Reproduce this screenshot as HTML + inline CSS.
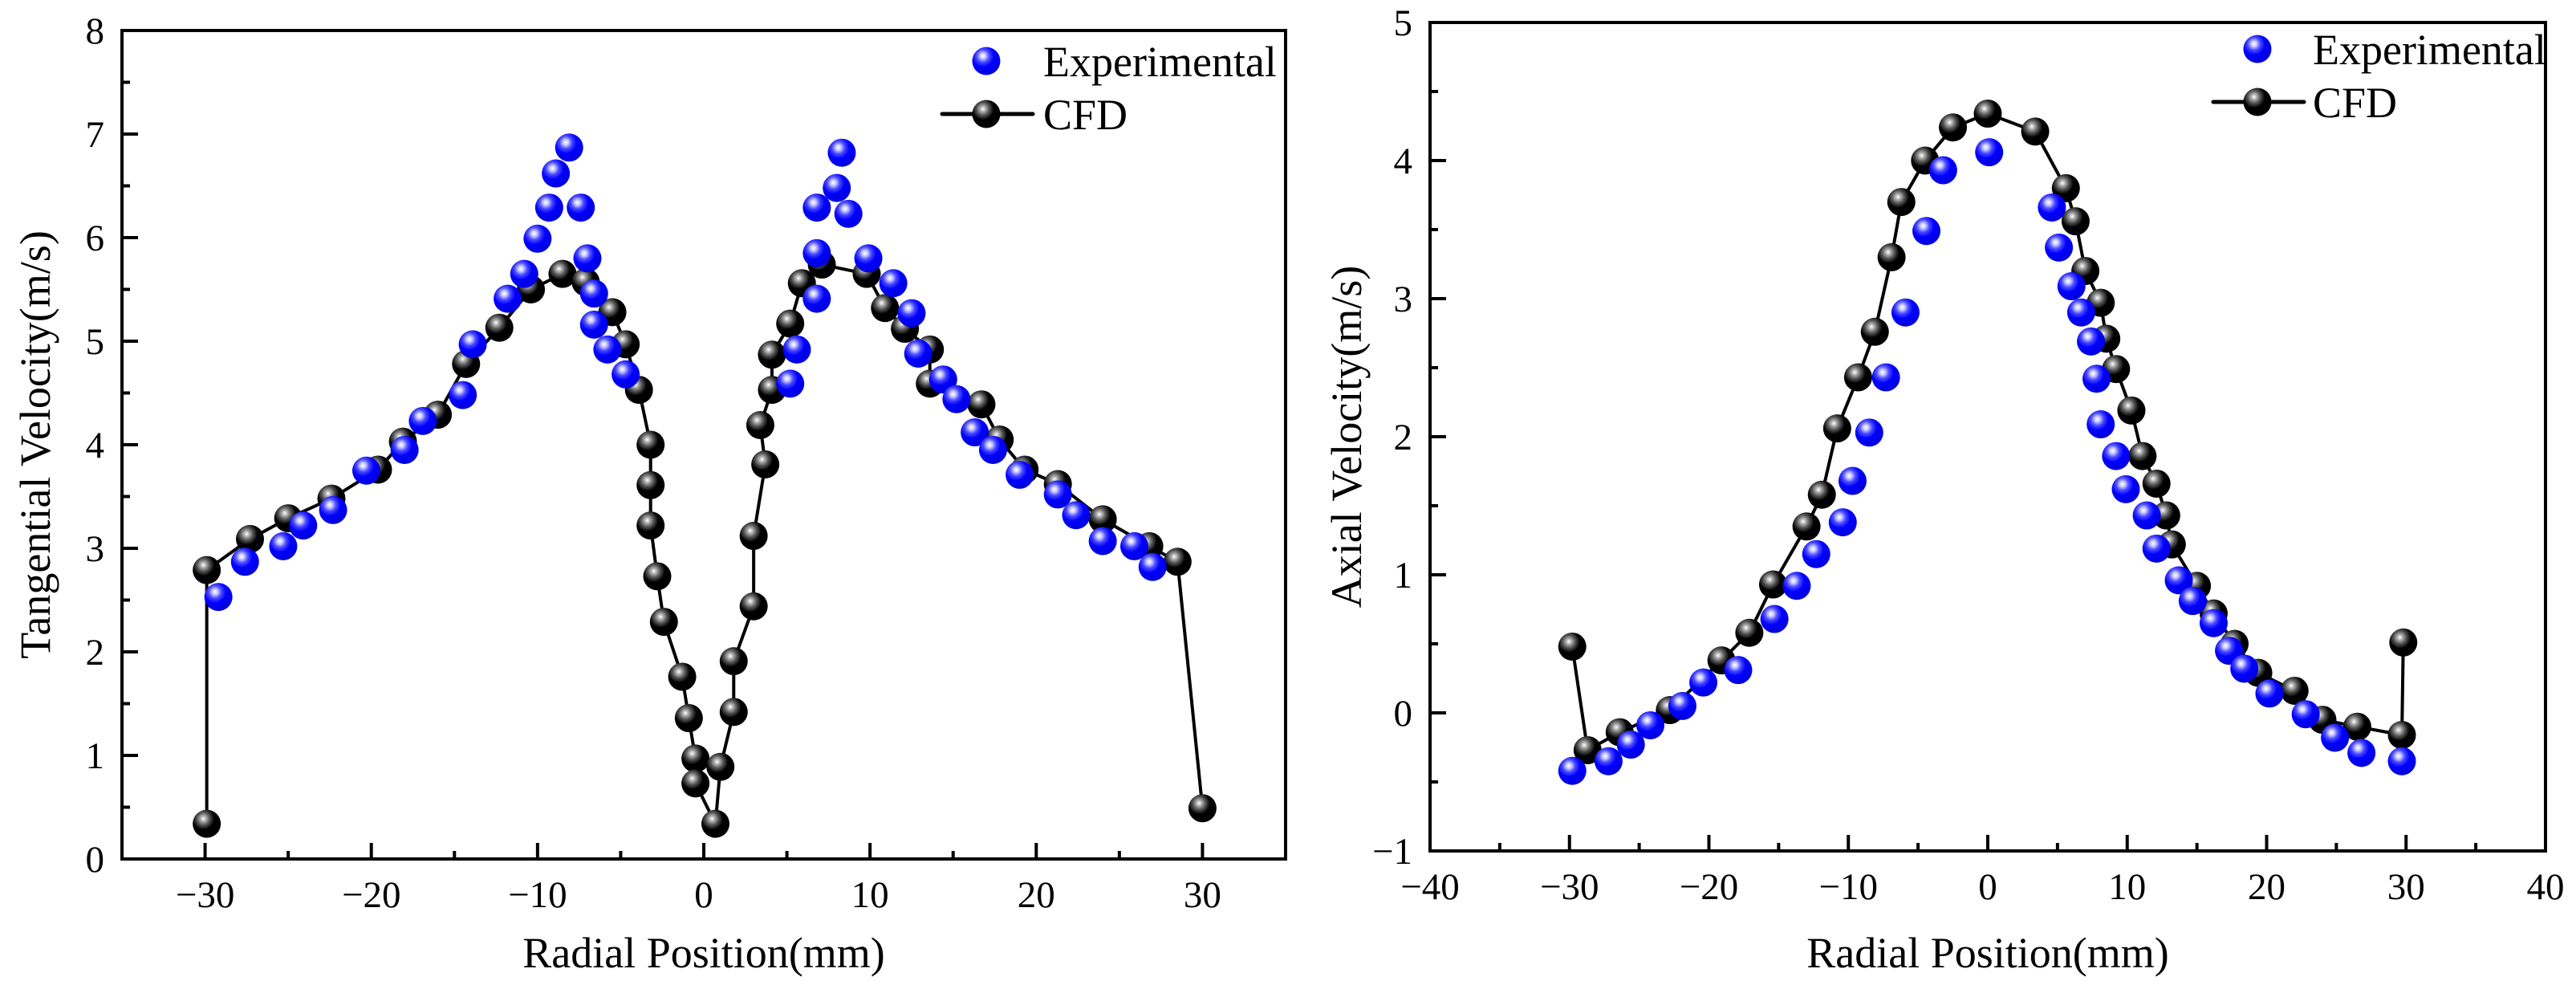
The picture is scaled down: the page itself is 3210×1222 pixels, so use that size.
<!DOCTYPE html>
<html><head><meta charset="utf-8">
<style>
html,body{margin:0;padding:0;background:#fff;}
svg{display:block;}
svg text{font-family:"Liberation Serif","Times New Roman",serif !important;fill:#000;}
</style></head>
<body>
<svg id="chart" width="3210" height="1222" viewBox="0 0 3210 1222" xmlns="http://www.w3.org/2000/svg" font-family="Liberation Serif, serif">
<defs>
<radialGradient id="gBlue" cx="0.38" cy="0.32" r="0.65">
<stop offset="0" stop-color="#ffffff"/><stop offset="0.15" stop-color="#c8c8ff"/><stop offset="0.35" stop-color="#4a4aff"/><stop offset="0.6" stop-color="#0000ff"/><stop offset="1" stop-color="#0000e0"/>
</radialGradient>
<radialGradient id="gBlack" cx="0.38" cy="0.32" r="0.65">
<stop offset="0" stop-color="#ffffff"/><stop offset="0.15" stop-color="#b0b0b0"/><stop offset="0.35" stop-color="#555"/><stop offset="0.6" stop-color="#000"/><stop offset="1" stop-color="#000"/>
</radialGradient>
</defs>
<g id="left"></g>
<g id="right"></g>
</svg>
<script>
// ---- Left chart data (Tangential velocity) ----
const tanCfdX = [-29.9,-29.9,-27.3,-25.0,-22.4,-19.6,-18.1,-16.0,-14.3,-12.3,-10.4,-8.5,-7.1,-5.5,-4.7,-3.9,-3.2,-3.2,-3.2,-2.8,-2.4,-1.3,-0.9,-0.5,-0.5,0.7,1.0,1.8,1.8,3.0,3.0,3.7,3.4,4.1,4.1,5.2,5.9,7.1,9.8,10.9,12.1,13.6,13.6,16.7,17.8,19.3,21.3,24.0,26.8,28.5,30.0];
const tanCfdY = [0.34,2.79,3.09,3.29,3.48,3.76,4.03,4.29,4.78,5.13,5.50,5.65,5.57,5.28,4.97,4.53,4.00,3.61,3.22,2.73,2.29,1.76,1.36,0.97,0.73,0.34,0.89,1.42,1.91,2.44,3.12,3.81,4.19,4.53,4.87,5.17,5.56,5.74,5.65,5.32,5.12,4.92,4.59,4.39,4.05,3.76,3.62,3.28,3.02,2.87,0.49];
const tanExpX = [-29.2,-27.6,-25.3,-24.1,-22.3,-20.3,-18.0,-16.9,-14.5,-13.9,-11.8,-10.8,-10.0,-9.3,-8.9,-8.1,-7.4,-7.0,-6.6,-6.6,-5.8,-4.7,5.2,5.6,6.8,6.8,6.8,8.0,8.3,8.7,9.9,11.4,12.5,12.9,14.4,15.2,16.3,17.4,19.0,21.3,22.4,24.0,25.9,27.0];
const tanExpY = [2.53,2.87,3.02,3.22,3.37,3.75,3.95,4.23,4.48,4.97,5.41,5.65,5.99,6.29,6.62,6.87,6.29,5.80,5.46,5.16,4.92,4.68,4.59,4.92,5.41,5.85,6.29,6.48,6.82,6.23,5.80,5.56,5.27,4.88,4.63,4.44,4.12,3.95,3.71,3.52,3.32,3.07,3.02,2.82];
const tanXTicks = [-30,-20,-10,0,10,20,30];
const tanYTicks = [0,1,2,3,4,5,6,7,8];
// ---- Right chart data (Axial velocity) ----
const axCfdX = [-29.8,-28.7,-26.4,-22.8,-19.1,-17.1,-15.4,-13.0,-11.9,-10.8,-9.3,-8.1,-6.9,-6.2,-4.5,-2.5,0,3.4,5.6,6.3,7.0,8.1,8.5,9.2,10.3,11.1,12.1,12.8,13.2,15.0,16.2,17.7,19.4,22.0,24.0,26.5,29.7,29.8];
const axCfdY = [0.48,-0.27,-0.14,0.02,0.38,0.58,0.93,1.35,1.58,2.06,2.43,2.76,3.30,3.70,4.00,4.24,4.34,4.21,3.80,3.56,3.20,2.97,2.71,2.49,2.19,1.86,1.66,1.43,1.22,0.92,0.72,0.50,0.29,0.16,-0.05,-0.10,-0.16,0.51];
const axExpX = [-29.8,-27.2,-25.6,-24.2,-21.9,-20.4,-17.9,-15.3,-13.7,-12.3,-10.4,-9.7,-8.5,-7.3,-5.9,-4.4,-3.2,0.1,4.6,5.1,6.0,6.7,7.4,7.8,8.1,9.2,9.9,11.4,12.1,13.7,14.7,16.2,17.3,18.4,20.2,22.8,24.9,26.8,29.7];
const axExpY = [-0.42,-0.35,-0.23,-0.09,0.05,0.22,0.31,0.68,0.92,1.15,1.38,1.68,2.03,2.43,2.90,3.49,3.93,4.06,3.66,3.37,3.09,2.90,2.69,2.42,2.09,1.86,1.62,1.43,1.19,0.96,0.81,0.65,0.45,0.32,0.14,-0.01,-0.18,-0.29,-0.35];
const axXTicks = [-40,-30,-20,-10,0,10,20,30,40];
const axYTicks = [-1,0,1,2,3,4,5];

const NS = "http://www.w3.org/2000/svg";
const FF = '"Liberation Serif", serif';
function mk(parent, tag, attrs, txt){
  const e = document.createElementNS(NS, tag);
  for (const k in attrs) e.setAttribute(k, attrs[k]);
  if (tag === 'text') { e.setAttribute('font-family', FF); e.style.fontFamily = FF; }
  if (txt !== undefined) e.textContent = txt;
  parent.appendChild(e);
  return e;
}
function drawChart(g, cfg){
  const sx = v => cfg.x0 + (v - cfg.xmin) / (cfg.xmax - cfg.xmin) * (cfg.x1 - cfg.x0);
  const sy = v => cfg.y1 - (v - cfg.ymin) / (cfg.ymax - cfg.ymin) * (cfg.y1 - cfg.y0);
  const fr = mk(g, 'rect', {x:cfg.x0, y:cfg.y0, width:cfg.x1-cfg.x0, height:cfg.y1-cfg.y0, fill:'none', stroke:'#000', 'stroke-width':4});
  
  
  cfg.xTicks.forEach(v => {
    const x = sx(v);
    const t = mk(g, 'line', {x1:x, x2:x, y1:cfg.y1, y2:cfg.y1-20, stroke:'#000', 'stroke-width':4});
    
    
    const m = mk(g, 'line', {x1:sx(v+cfg.xStep/2), x2:sx(v+cfg.xStep/2), y1:cfg.y1, y2:cfg.y1-10, stroke:'#000', 'stroke-width':4});
    if (v + cfg.xStep/2 >= cfg.xmax) m.remove();
    if (v === cfg.xTicks[0] && v - cfg.xStep/2 > cfg.xmin) {
      mk(g, 'line', {x1:sx(v-cfg.xStep/2), x2:sx(v-cfg.xStep/2), y1:cfg.y1, y2:cfg.y1-10, stroke:'#000', 'stroke-width':4});
    }
    const lb = mk(g, 'text', {x:x, y:cfg.y1+60, 'font-size':47, 'text-anchor':'middle'}, v < 0 ? '\u2212' + Math.abs(v) : String(v));
    
    
  });
  cfg.yTicks.forEach((v, i) => {
    const y = sy(v);
    const t = mk(g, 'line', {x1:cfg.x0, x2:cfg.x0+20, y1:y, y2:y, stroke:'#000', 'stroke-width':4});
    
    
    if (i < cfg.yTicks.length - 1) {
      const ym = sy(v + 0.5);
      mk(g, 'line', {x1:cfg.x0, x2:cfg.x0+10, y1:ym, y2:ym, stroke:'#000', 'stroke-width':4});
    }
    const lb = mk(g, 'text', {x:cfg.x0-22, y:y+16, 'font-size':47, 'text-anchor':'end'}, v < 0 ? '\u2212' + Math.abs(v) : String(v));
    
    
  });
  const xt = mk(g, 'text', {x:(cfg.x0+cfg.x1)/2, y:1205, 'font-size':54, 'text-anchor':'middle'}, 'Radial Position(mm)');
  
  
  const yc = (cfg.y0+cfg.y1)/2;
  const yt = mk(g, 'text', {x:cfg.ytx, y:yc, 'font-size':54, 'text-anchor':'middle', transform:'rotate(-90 '+cfg.ytx+' '+yc+')'}, cfg.yTitle);
  
  
  const pts = cfg.cfdX.map((v, i) => sx(v) + ',' + sy(cfg.cfdY[i])).join(' ');
  const pl = mk(g, 'polyline', {points:pts, fill:'none', stroke:'#000', 'stroke-width':4, 'stroke-linejoin':'round'});
  
  
  cfg.cfdX.forEach((v, i) => {
    const c = mk(g, 'circle', {cx:sx(v), cy:sy(cfg.cfdY[i]), r:17.5, fill:'url(#gBlack)'});
    
    
  });
  cfg.expX.forEach((v, i) => {
    const c = mk(g, 'circle', {cx:sx(v), cy:sy(cfg.expY[i]), r:17.5, fill:'url(#gBlue)'});
    
    
  });
  const L = cfg.leg;
  const lg = mk(g, 'g', {});
  
  
  const e1 = mk(lg, 'circle', {cx:L.mx, cy:L.y1, r:17.5, fill:'url(#gBlue)'});
  
  
  const t1 = mk(lg, 'text', {x:L.tx, y:L.y1+19, 'font-size':54}, 'Experimental');
  
  
  mk(lg, 'line', {x1:L.mx-55, x2:L.mx+58, y1:L.y2, y2:L.y2, stroke:'#000', 'stroke-width':5, 'stroke-linecap':'round'});
  const e2 = mk(lg, 'circle', {cx:L.mx, cy:L.y2, r:17.5, fill:'url(#gBlack)'});
  
  
  const t2 = mk(lg, 'text', {x:L.tx, y:L.y2+19, 'font-size':54}, 'CFD');
  
  
}
drawChart(document.getElementById('left'), {
  x0:152, x1:1602, y0:38, y1:1070, xmin:-35, xmax:35, ymin:0, ymax:8, xStep:10,
  xTicks:tanXTicks, yTicks:tanYTicks, cfdX:tanCfdX, cfdY:tanCfdY, expX:tanExpX, expY:tanExpY,
  yTitle:'Tangential Velocity(m/s)', ytx:62, leg:{mx:1229, tx:1300, y1:76, y2:142}
});
drawChart(document.getElementById('right'), {
  x0:1782, x1:3172, y0:28, y1:1060, xmin:-40, xmax:40, ymin:-1, ymax:5, xStep:10,
  xTicks:axXTicks, yTicks:axYTicks, cfdX:axCfdX, cfdY:axCfdY, expX:axExpX, expY:axExpY,
  yTitle:'Axial Velocity(m/s)', ytx:1696, leg:{mx:2813, tx:2882, y1:61, y2:127}
});
</script>
</body></html>
